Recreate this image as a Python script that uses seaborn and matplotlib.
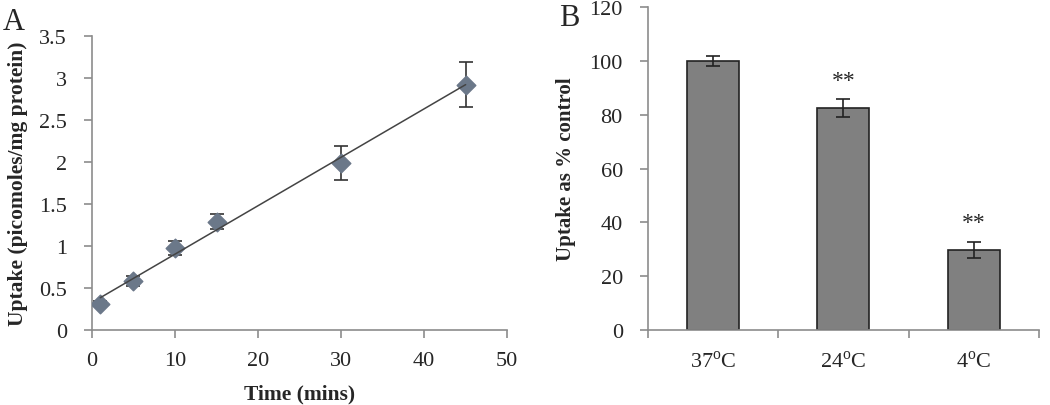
import numpy as np
import pandas as pd
import matplotlib
matplotlib.use("Agg")
import matplotlib.pyplot as plt
import seaborn as sns

# panel A: uptake over time
time_mins = [1, 5, 10, 15, 30, 45]
uptake = [0.31, 0.58, 0.98, 1.29, 1.99, 2.92]
uptake_err = [0.03, 0.06, 0.085, 0.085, 0.2, 0.27]

# panel B: uptake vs temperature
temps = [r"37$^{\mathrm{o}}$C", r"24$^{\mathrm{o}}$C", r"4$^{\mathrm{o}}$C"]
pct_control = [100, 82.5, 29.8]
pct_err = [2, 3.2, 3.0]
stars = ["", "**", "**"]

sns.set_style("white")
plt.rcParams["font.family"] = ["Liberation Serif", "DejaVu Serif"]
plt.rcParams["mathtext.fontset"] = "custom"
plt.rcParams["mathtext.rm"] = "Liberation Serif"

df_a = pd.DataFrame({"time": time_mins, "uptake": uptake})
df_b = pd.DataFrame({"temp": temps, "pct": pct_control})

fig = plt.figure(figsize=(10.5, 4.06), dpi=100)
ax1 = fig.add_axes([0.0876, 0.1847, 0.3954, 0.7243])
ax2 = fig.add_axes([0.617, 0.1847, 0.3725, 0.7953])

axis_col = "#8c8c8c"
pt_col = "#6b7889"

# --- A
ax1.errorbar(time_mins, uptake, yerr=uptake_err, fmt="none", ecolor="#333333",
             elinewidth=1.2, capsize=5, capthick=1.2, zorder=2)
sns.regplot(data=df_a, x="time", y="uptake", ax=ax1, ci=None,
            marker="D", scatter_kws={"s": 90, "color": pt_col, "zorder": 3, "alpha": 1},
            line_kws={"color": "#444444", "lw": 1.1, "zorder": 4})
ax1.set_xlim(0, 50)
ax1.set_ylim(0, 3.5)
ax1.set_xticks(range(0, 51, 10))
ax1.set_yticks(np.arange(0, 3.51, 0.5))
ax1.set_yticklabels(["0", "0.5", "1", "1.5", "2", "2.5", "3", "3.5"])
ax1.set_xlabel("Time (mins)", fontsize=15.5, fontweight="bold", labelpad=10)
ax1.set_ylabel("Uptake (picomoles/mg protein)", fontsize=15.5, fontweight="bold", labelpad=8)

# --- B
sns.barplot(data=df_b, x="temp", y="pct", ax=ax2, color="#808080", width=0.4,
            edgecolor="#222222", linewidth=1.2, saturation=1)
ax2.errorbar(range(len(temps)), pct_control, yerr=pct_err, fmt="none",
             ecolor="#222222", elinewidth=1.2, capsize=5, capthick=1.2)
for i, s in enumerate(stars):
    if s:
        ax2.text(i, pct_control[i] + pct_err[i] + 7, s, ha="center", va="center", fontsize=17)
ax2.set_xlim(-0.5, 2.5)
ax2.set_ylim(0, 120)
ax2.set_yticks(range(0, 121, 20))
ax2.set_xticks([-0.5, 0.5, 1.5, 2.5])
ax2.set_xticklabels([])
ax2.set_xticks(range(len(temps)), minor=True)
ax2.set_xticklabels(temps, minor=True)
ax2.tick_params(axis="x", which="minor", length=0, pad=15)
ax2.set_xlabel("")
ax2.set_ylabel("Uptake as % control", fontsize=15, fontweight="bold", labelpad=10)

for ax in (ax1, ax2):
    sns.despine(ax=ax)
    for sp in ("left", "bottom"):
        ax.spines[sp].set_color(axis_col)
        ax.spines[sp].set_linewidth(1.2)
    ax.tick_params(axis="both", which="major", direction="out", length=6, width=1.2,
                   color=axis_col, labelsize=16, left=True, bottom=True)
    ax.tick_params(axis="y", which="major", pad=12)
    ax.tick_params(axis="x", which="major", pad=9)
    ax.tick_params(axis="x", which="minor", labelsize=16)

fig.text(0.003, 0.925, "A", fontsize=22)
fig.text(0.532, 0.935, "B", fontsize=22)

fig.savefig("out.png", dpi=100)
